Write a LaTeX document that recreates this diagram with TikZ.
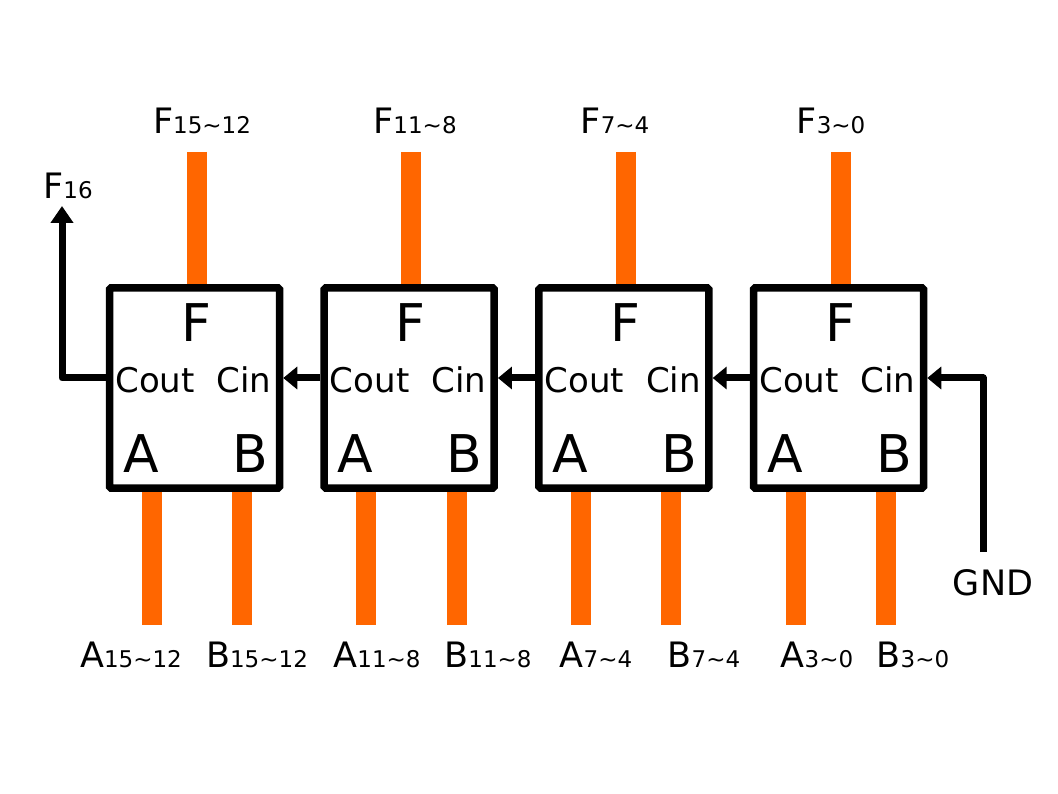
\documentclass[tikz,border=0pt]{standalone}
\usepackage{fontspec}
\setmainfont{DejaVu Sans}
\usetikzlibrary{arrows.meta}
\definecolor{wireorange}{HTML}{FF6600}
\newcommand\lsub[1]{{\fontsize{23}{27}\selectfont #1}}
\newcommand\tld{\char"7E }
\begin{document}
\begin{tikzpicture}[x=1pt,y=-1pt,
  adder/.style={draw=black,fill=white,line width=7.5pt,rounded corners=1.5pt,minimum width=170pt,minimum height=200pt,inner sep=0pt},
  wire/.style={draw=wireorange,line width=20pt},
  carry/.style={draw=black,line width=7pt,line join=round,-{Triangle[length=14pt,width=22pt]}},
  carryup/.style={draw=black,line width=7pt,line join=round,-{Triangle[length=17pt,width=22pt]}},
  lbig/.style={font=\fontsize{52}{60}\selectfont,inner sep=0pt,anchor=base},
  lmid/.style={font=\fontsize{34}{40}\selectfont,inner sep=0pt,anchor=base},
  llab/.style={font=\fontsize{35}{40}\selectfont,inner sep=0pt,anchor=base}]
\useasboundingbox (0,0) rectangle (1058,794);
% box positions
\foreach \i/\cx in {1/194.5,2/409.2,3/623.9,4/838.5}{
  \coordinate (t\i) at (\cx+2,152);
  \coordinate (a\i) at (\cx-43,625);
  \coordinate (bb\i) at (\cx+47.5,625);
}
% wires
\foreach \i in {1,2,3,4}{
  \draw[wire] (t\i) -- (t\i |- 0,300);
  \draw[wire] (a\i) -- (a\i |- 0,480);
  \draw[wire] (bb\i) -- (bb\i |- 0,480);
}
% adders
\foreach \i/\cx in {1/194.5,2/409.2,3/623.9,4/838.5}{
  \node[adder] (b\i) at (\cx,388) {};
  \node[lbig] (f\i) at (\cx+1.5,342) {F};
  \node[lmid] (co\i) at (\cx-39.5,392) {Cout};
  \node[lmid] (ci\i) at (\cx+49.5,392) {Cin};
  \node[lbig] (la\i) at (\cx-53.5,472) {A};
  \node[lbig] (lb\i) at (\cx+55.5,472) {B};
}
% carry chain
\draw[carry] ([yshift=10pt]b2.west) -- ([yshift=10pt]b1.east);
\draw[carry] ([yshift=10pt]b3.west) -- ([yshift=10pt]b2.east);
\draw[carry] ([yshift=10pt]b4.west) -- ([yshift=10pt]b3.east);
\coordinate (f16tip) at (62,206);
\coordinate (gndend) at (983,552);
\draw[carryup] ([yshift=10pt]b1.west) -| (f16tip);
\draw[carry] (gndend) |- ([yshift=10pt]b4.east);
% labels
\node[llab] (lf16) at (68,199) {F\lsub{16}};
\node[llab] (lgnd) at (993,595) {GND};
\node[llab] (lt1) at (202,134) {F\lsub{15\tld12}};
\node[llab] (lt2) at (415,134) {F\lsub{11\tld8}};
\node[llab] (lt3) at (615,134) {F\lsub{7\tld4}};
\node[llab] (lt4) at (831,134) {F\lsub{3\tld0}};
\node[llab] (la1l) at (131,667) {A\lsub{15\tld12}};
\node[llab] (lb1l) at (257,667) {B\lsub{15\tld12}};
\node[llab] (la2l) at (377,667) {A\lsub{11\tld8}};
\node[llab] (lb2l) at (488,667) {B\lsub{11\tld8}};
\node[llab] (la3l) at (596,667) {A\lsub{7\tld4}};
\node[llab] (lb3l) at (704,667) {B\lsub{7\tld4}};
\node[llab] (la4l) at (817,667) {A\lsub{3\tld0}};
\node[llab] (lb4l) at (913,667) {B\lsub{3\tld0}};
\end{tikzpicture}
\end{document}
